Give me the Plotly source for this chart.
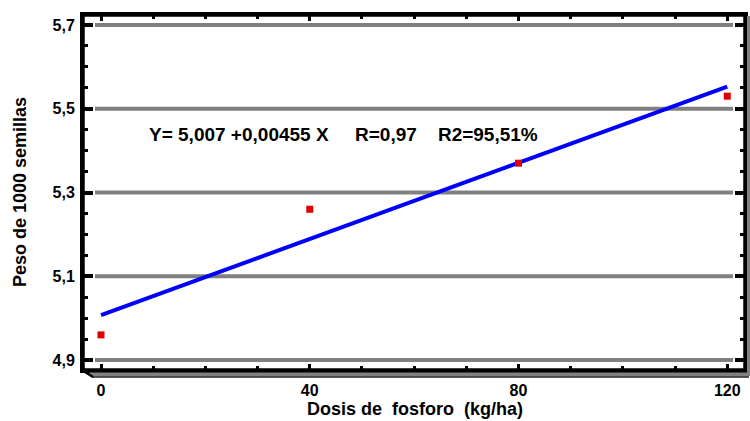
import plotly.graph_objects as go

dose = [0, 40, 80, 120]
weight = [4.96, 5.26, 5.37, 5.53]
intercept = 5.007
slope = 0.00455
fit_x = [0, 120]
fit_y = [intercept + slope * x for x in fit_x]
y_ticks = [4.9, 5.1, 5.3, 5.5, 5.7]
y_tick_labels = ["4,9", "5,1", "5,3", "5,5", "5,7"]
x_ticks = [0, 40, 80, 120]
equation = "Y= 5,007 +0,00455 X&nbsp;&nbsp;&nbsp;&nbsp;&nbsp;R=0,97&nbsp;&nbsp;&nbsp;&nbsp;R2=95,51%"
x_title = "Dosis de&nbsp; fosforo&nbsp; (kg/ha)"
y_title = "Peso de 1000 semillas"

FONT = "Liberation Sans, Arial, sans-serif"

# plot area in pixels: left 83, right 745, top 15, bottom 370
L, R, T, B = 83, 745, 15, 370
W, H = 750, 421
PW, PH = R - L, B - T

def px(xp):
    return (xp - L) / PW

def py(yp):
    return 1 - (yp - T) / PH

fig = go.Figure()

shapes = []
for yv in y_ticks:
    shapes.append(dict(type="line", xref="x", yref="y", x0=-1.15, x1=121.1, y0=yv, y1=yv,
                       line=dict(color="#808080", width=4), layer="below"))
# 3D shadow on bottom and right of frame
shapes.append(dict(type="line", xref="paper", yref="paper", x0=px(90), x1=px(748), y0=py(374.5), y1=py(374.5),
                   line=dict(color="#808080", width=4)))
shapes.append(dict(type="line", xref="paper", yref="paper", x0=px(92), x1=px(749), y0=py(377), y1=py(377),
                   line=dict(color="#202020", width=1.5)))
shapes.append(dict(type="line", xref="paper", yref="paper", x0=px(748.5), x1=px(748.5), y0=py(16), y1=py(376),
                   line=dict(color="#808080", width=3)))
shapes.append(dict(type="line", xref="paper", yref="paper", x0=px(82), x1=px(93), y0=py(370), y1=py(377),
                   line=dict(color="black", width=2.5)))
# frame
shapes.append(dict(type="rect", xref="paper", yref="paper", x0=0, x1=1, y0=0, y1=1,
                   line=dict(color="black", width=3.5)))

fig.add_trace(go.Scatter(x=fit_x, y=fit_y, mode="lines",
                         line=dict(color="#0000ff", width=4), showlegend=False))
fig.add_trace(go.Scatter(x=dose, y=weight, mode="markers",
                         marker=dict(color="#e00000", size=7, symbol="square", line=dict(width=0)),
                         showlegend=False))

fig.add_annotation(x=px(147), y=py(134), xref="paper", yref="paper",
                   xanchor="left", yanchor="middle", text="<b>" + equation + "</b>", showarrow=False,
                   font=dict(family=FONT, size=19, color="black"))
fig.add_annotation(x=px(415), y=py(409), xref="paper", yref="paper", borderpad=0,
                   xanchor="center", yanchor="middle", text="<b>" + x_title + "</b>", showarrow=False,
                   font=dict(family=FONT, size=18, color="black"))
fig.add_annotation(x=px(20), y=py(192), xref="paper", yref="paper", textangle=-90,
                   xanchor="center", yanchor="middle", text="<b>" + y_title + "</b>", showarrow=False,
                   font=dict(family=FONT, size=18, color="black"))

fig.update_layout(
    width=W, height=H,
    margin=dict(l=L, r=W - R, t=T, b=H - B),
    paper_bgcolor="white", plot_bgcolor="white",
    shapes=shapes,
    font=dict(family=FONT, size=15, color="black"),
    xaxis=dict(
        range=[-3.45, 123.4], tickvals=x_ticks, ticktext=["<b>%d</b>" % v for v in x_ticks],
        showgrid=False, zeroline=False, showline=True, linecolor="black", linewidth=3,
        mirror="allticks", ticks="inside", ticklen=6, tickwidth=3, tickcolor="black",
        minor=dict(dtick=10, tick0=0, ticks="inside", ticklen=4, tickwidth=3, tickcolor="black", showgrid=False),
        tickfont=dict(family=FONT, size=16, color="black"), automargin=False, ticklabelstandoff=4,
    ),
    yaxis=dict(
        range=[4.8761, 5.7239], tickvals=y_ticks, ticktext=["<b>%s</b>" % t for t in y_tick_labels],
        showgrid=False, zeroline=False, showline=True, linecolor="black", linewidth=3,
        mirror="allticks", ticks="inside", ticklen=10, tickwidth=3.5, tickcolor="black",
        minor=dict(dtick=0.05, tick0=4.9, ticks="inside", ticklen=5, tickwidth=3, tickcolor="black", showgrid=False),
        tickfont=dict(family=FONT, size=16, color="black"), automargin=False, ticklabelstandoff=2,
    ),
)

fig.write_html("out.html", config={"displayModeBar": False},
               post_script="document.body.style.margin='0';document.body.style.overflow='hidden';")
